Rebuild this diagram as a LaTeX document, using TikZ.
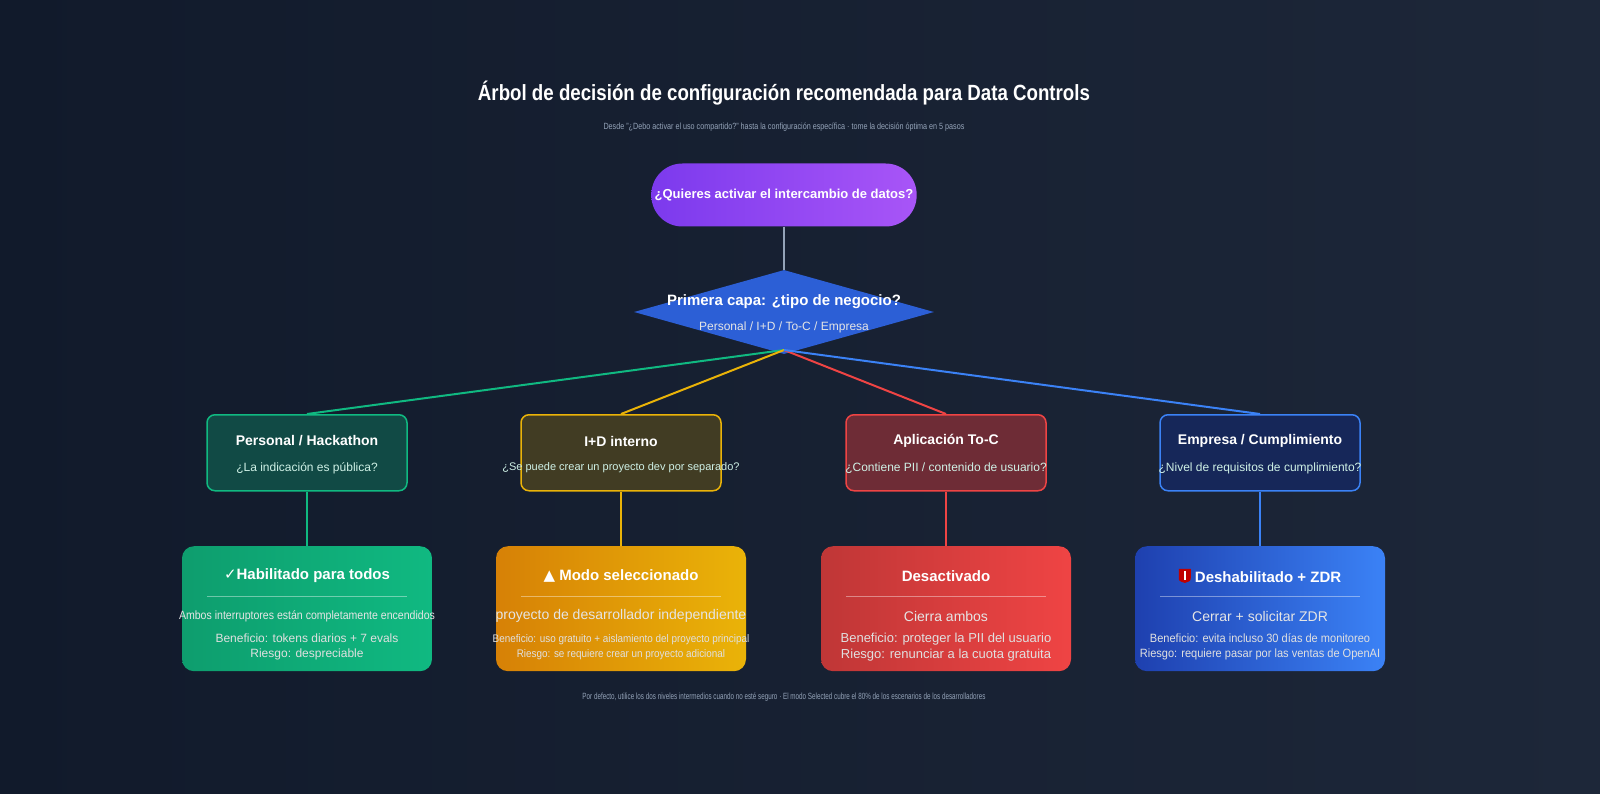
\documentclass[tikz,border=0pt]{standalone}
\usepackage{fontspec}
\setmainfont{Liberation Sans}
\newfontfamily\symfont{DejaVu Sans}
\usetikzlibrary{shapes.geometric}
\definecolor{bgA}{HTML}{111A2B}
\definecolor{bgB}{HTML}{1D2739}
\definecolor{cGreen}{HTML}{10B981}
\definecolor{cYellow}{HTML}{EAB308}
\definecolor{cRed}{HTML}{EF4444}
\definecolor{cBlue}{HTML}{3B82F6}
\definecolor{cGrey}{HTML}{94A3B8}
\definecolor{cViolet}{HTML}{7C3AED}
\definecolor{cPurple}{HTML}{A855F7}
\definecolor{cDiamond}{HTML}{2C5FD6}
\definecolor{cNavy}{HTML}{1E40AF}
\tikzset{
  mid/.style={draw,line width=1.5pt,rounded corners=8pt,minimum width=200pt,minimum height=76pt,anchor=north},
  leaf/.style={rounded corners=12pt,minimum width=250pt,minimum height=125pt,anchor=north},
  ttl/.style={text=white,font=\bfseries\fontsize{14}{16}\selectfont},
  sub/.style={text=white!90!black,font=\fontsize{12}{14}\selectfont},
  small/.style={text=white!88!black,font=\fontsize{11}{13}\selectfont},
  edge/.style={line width=2pt}
}
\begin{document}
\begin{tikzpicture}[x=1pt,y=-1pt]
  %background
  \shade[left color=bgA,right color=bgB] (0,0) rectangle (1600,794);
  \useasboundingbox (0,0) rectangle (1600,794);
  %title
  \node[text=white,font=\bfseries\fontsize{22}{24}\selectfont,xscale=0.85] (title) at (784,93) {Árbol de decisión de configuración recomendada para Data Controls};
  \node[text=cGrey,font=\fontsize{9}{10}\selectfont,xscale=0.8] (subtitle) at (784,127) {Desde "¿Debo activar el uso compartido?" hasta la configuración específica · tome la decisión óptima en 5 pasos};
  %start
  \node[rounded corners=31pt,minimum width=250pt,minimum height=63pt,left color=cViolet,right color=cPurple,ttl,font=\bfseries\fontsize{13}{15}\selectfont] (start) at (784,195) {¿Quieres activar el intercambio de datos?};
  %diamond
  \node[diamond,aspect=3.57,minimum width=300pt,minimum height=84pt,inner sep=0pt,fill=cDiamond] (layer) at (784,312) {};
  \node[ttl,font=\bfseries\fontsize{15}{17}\selectfont] (layerT) at (784,302) {Primera capa: ¿tipo de negocio?};
  \node[sub] (layerS) at (784,327) {Personal / I+D / To-C / Empresa};
  \coordinate (fork) at (784,350);
  \draw[cGrey,line width=2pt] (start) -- (layer.north);
  %middle layer
  \node[mid,draw=cGreen,fill=cGreen!30!bgA] (m1) at (307,414) {};
  \node[mid,draw=cYellow,fill=cYellow!22!bgA] (m2) at (621,414) {};
  \node[mid,draw=cRed,fill=cRed!42!bgA] (m3) at (946,414) {};
  \node[mid,draw=cBlue,fill=cNavy!35!bgA] (m4) at (1260,414) {};
  \foreach \n/\t/\s in {m1/{Personal / Hackathon}/{¿La indicación es pública?},
      m2/{I+D interno}/{\fontsize{11}{13}\selectfont ¿Se puede crear un proyecto dev por separado?},
      m3/{Aplicación To-C}/{¿Contiene PII / contenido de usuario?},
      m4/{Empresa / Cumplimiento}/{¿Nivel de requisitos de cumplimiento?}}{
    \node[ttl] at ([yshift=-27]\n.north) {\t};
    \node[sub,text=white!80!cGreen] at ([yshift=-54]\n.north) {\s};
  }
  \draw[edge,cGreen] (fork) -- (m1.north);
  \draw[edge,cYellow] (fork) -- (m2.north);
  \draw[edge,cRed] (fork) -- (m3.north);
  \draw[edge,cBlue] (fork) -- (m4.north);
  %leaves
  \node[leaf,left color=cGreen!85!black,right color=cGreen] (l1) at (307,546) {};
  \node[leaf,left color=cYellow!80!red!90!black,right color=cYellow] (l2) at (621,546) {};
  \node[leaf,left color=cRed!80!black,right color=cRed] (l3) at (946,546) {};
  \node[leaf,left color=cNavy,right color=cBlue] (l4) at (1260,546) {};
  \draw[edge,cGreen] (m1) -- (l1);
  \draw[edge,cYellow] (m2) -- (l2);
  \draw[edge,cRed] (m3) -- (l3);
  \draw[edge,cBlue] (m4) -- (l4);
  \foreach \n in {l1,l2,l3,l4}
    \draw[white,opacity=0.4] ([xshift=-100,yshift=-50]\n.north) -- ([xshift=100,yshift=-50]\n.north);
  %leaf texts
  \node[ttl,font=\bfseries\fontsize{15}{17}\selectfont] at ([yshift=-30]l1.north) {{\symfont ✓}Habilitado para todos};
  \node[sub] at ([yshift=-70]l1.north) {\fontsize{12}{14}\selectfont\scalebox{0.88}[1]{Ambos interruptores están completamente encendidos}};
  \node[small,align=center,font=\fontsize{12}{15}\selectfont] at ([yshift=-101]l1.north) {Beneficio: tokens diarios + 7 evals\\Riesgo: despreciable};
  \node[ttl,font=\bfseries\fontsize{15}{17}\selectfont] at ([yshift=-30]l2.north) {{\symfont ▲} Modo seleccionado};
  \node[sub,font=\fontsize{14}{16}\selectfont] at ([yshift=-70]l2.north) {proyecto de desarrollador independiente};
  \node[small,align=center,font=\fontsize{11}{15}\selectfont] at ([yshift=-101]l2.north) {\scalebox{0.9}[1]{Beneficio: uso gratuito + aislamiento del proyecto principal}\\\scalebox{0.9}[1]{Riesgo: se requiere crear un proyecto adicional}};
  \node[ttl,font=\bfseries\fontsize{15}{17}\selectfont] at ([yshift=-30]l3.north) {Desactivado};
  \node[sub,font=\fontsize{14}{16}\selectfont] at ([yshift=-70]l3.north) {Cierra ambos};
  \node[small,align=center,font=\fontsize{13}{16}\selectfont] at ([yshift=-101]l3.north) {Beneficio: proteger la PII del usuario\\Riesgo: renunciar a la cuota gratuita};
  \node[ttl,font=\bfseries\fontsize{15}{17}\selectfont] at ([yshift=-30]l4.north) {\tikz[x=1pt,y=1pt]{\fill[red!75!black] (0,14) -- (12,14) -- (12,6) .. controls (12,2) .. (6,0) .. controls (0,2) .. (0,6) -- cycle;\fill[white] (5,3) rectangle (7,12);} Deshabilitado + ZDR};
  \node[sub,font=\fontsize{14}{16}\selectfont] at ([yshift=-70]l4.north) {Cerrar + solicitar ZDR};
  \node[small,align=center,font=\fontsize{12}{15}\selectfont] at ([yshift=-101]l4.north) {\scalebox{0.92}[1]{Beneficio: evita incluso 30 días de monitoreo}\\\scalebox{0.92}[1]{Riesgo: requiere pasar por las ventas de OpenAI}};
  %footer
  \node[text=cGrey,font=\fontsize{9}{10}\selectfont,xscale=0.7] (footer) at (784,697) {Por defecto, utilice los dos niveles intermedios cuando no esté seguro · El modo Selected cubre el 80\% de los escenarios de los desarrolladores};
\end{tikzpicture}
\end{document}
